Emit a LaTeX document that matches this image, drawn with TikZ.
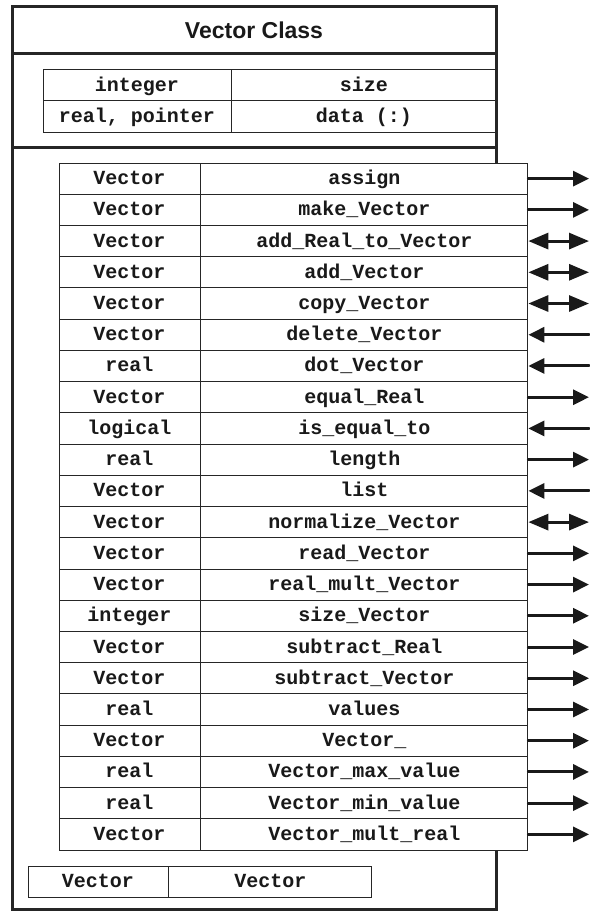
\documentclass[tikz,border=0pt]{standalone}
\usepackage{fontspec}
\setmainfont{Liberation Sans}
\setmonofont{Liberation Mono}
\usetikzlibrary{arrows.meta}

\begin{document}
\begin{tikzpicture}[x=1pt, y=-1pt,
		cell/.style={draw=black!85, fill=white, line width=0.9pt, minimum height=31.227pt, inner sep=0pt, text height=13pt, text depth=1pt, text=black!90, font=\ttfamily\bfseries\fontsize{20}{20}\selectfont},
		frame/.style={draw=black!85, line width=3pt},
		call/.style={black!90, line width=3pt, line cap=round},
		toright/.style={-{Triangle[length=16pt, width=15pt]}},
		toleft/.style={{Triangle[length=16pt, width=15pt]}-},
		twoway/.style={{Triangle[length=20pt, width=16pt]}-{Triangle[length=20pt, width=16pt]}}]
	\useasboundingbox (0,0) rectangle (589,912);
	
	% attributes
	\node[cell, minimum width=188pt] (atype1) at (137,85.5) {integer};
	\node[cell, minimum width=264pt, anchor=west] (aname1) at (atype1.east) {size};
	\node[cell, minimum width=188pt] (atype2) at (137,116.5) {real, pointer};
	\node[cell, minimum width=264pt, anchor=west] (aname2) at (atype2.east) {data (:)};
	
	% class frame
	\draw[frame] (12,7) rectangle (496,909.5);
	\draw[frame] (12,54) -- (496,54);
	\draw[frame] (12,148) -- (496,148);
	\node[text=black!90, font=\bfseries\fontsize{23}{23}\selectfont] (title) at (254,30) {Vector Class};
	
	% methods
	\foreach [count=\i] \ty/\nm/\dir in {
			Vector/assign/toright,
			Vector/make\_Vector/toright,
			Vector/add\_Real\_to\_Vector/twoway,
			Vector/add\_Vector/twoway,
			Vector/copy\_Vector/twoway,
			Vector/delete\_Vector/toleft,
			real/dot\_Vector/toleft,
			Vector/equal\_Real/toright,
			logical/is\_equal\_to/toleft,
			real/length/toright,
			Vector/list/toleft,
			Vector/normalize\_Vector/twoway,
			Vector/read\_Vector/toright,
			Vector/real\_mult\_Vector/toright,
			integer/size\_Vector/toright,
			Vector/subtract\_Real/toright,
			Vector/subtract\_Vector/toright,
			real/values/toright,
			Vector/Vector\_/toright,
			real/Vector\_max\_value/toright,
			real/Vector\_min\_value/toright,
			Vector/Vector\_mult\_real/toright} {
		\pgfmathsetmacro{\yc}{163+(\i-0.5)*31.227}
		\node[cell, minimum width=141pt] (mtype\i) at (129.5,\yc) {\ty};
		\node[cell, minimum width=327pt, anchor=west] (mname\i) at (mtype\i.east) {\nm};
		\coordinate (end\i) at (589,\yc);
		\draw[call, \dir] (mname\i.east) -- (end\i);
	}
	
	% constructor
	\node[cell, minimum width=140pt, minimum height=31pt] (ctype) at (98,881.5) {Vector};
	\node[cell, minimum width=203pt, minimum height=31pt, anchor=west] (cname) at (ctype.east) {Vector};
\end{tikzpicture}
\end{document}
